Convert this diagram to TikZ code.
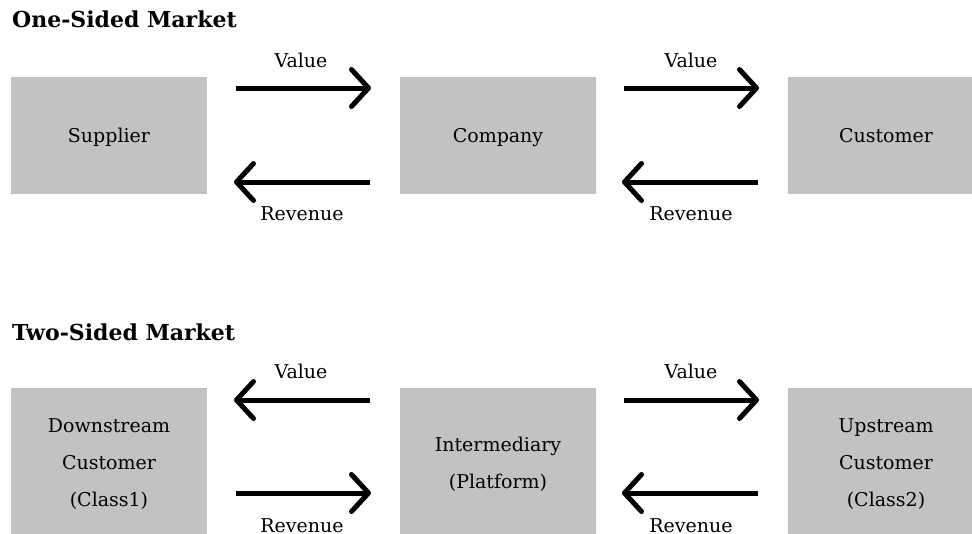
\documentclass[tikz,border=0pt]{standalone}
\usepackage{fontspec}
\setmainfont{DejaVu Serif}
\usetikzlibrary{arrows.meta}
\begin{document}
\begin{tikzpicture}[x=1pt,y=-1pt,
  box/.style={fill=boxgray,draw=none,minimum width=196pt,inner sep=0pt,align=center,
    text depth=0pt,font=\fontsize{19}{37}\selectfont},
  lbl/.style={font=\fontsize{19}{22}\selectfont,inner sep=0pt},
  ttl/.style={font=\bfseries\fontsize{22}{26}\selectfont,anchor=base west,inner sep=0pt},
  arr/.style={line width=5pt,-{Straight Barb[length=17pt,width=37pt,line width=5pt,round]}}]
\definecolor{boxgray}{RGB}{194,194,194}
\useasboundingbox (0,0) rectangle (972,533);
\clip (0,0) rectangle (972,533);
% One-sided
\node[ttl] (t1) at (12,27) {One-Sided Market};
\node[box,minimum height=117pt] (sup) at (109,135) {Supplier};
\node[box,minimum height=117pt] (com) at (498,135) {Company};
\node[box,minimum height=117pt] (cus) at (886,135) {Customer};
\coordinate (a1s) at (236,88); \coordinate (a1e) at (371,88);
\coordinate (a2s) at (370,182); \coordinate (a2e) at (234,182);
\coordinate (a3s) at (624,88); \coordinate (a3e) at (759,88);
\coordinate (a4s) at (758,182); \coordinate (a4e) at (622,182);
\draw[arr] (a1s) -- (a1e);
\draw[arr] (a2s) -- (a2e);
\draw[arr] (a3s) -- (a3e);
\draw[arr] (a4s) -- (a4e);
\node[lbl] (v1) at (301,60) {Value};
\node[lbl] (r1) at (302,214) {Revenue};
\node[lbl] (v2) at (691,60) {Value};
\node[lbl] (r2) at (691,214) {Revenue};
% Two-sided
\node[ttl] (t2) at (12,340) {Two-Sided Market};
\node[box,minimum height=150pt] (dwn) at (109,462.5) {Downstream\\Customer\\(Class1)};
\node[box,minimum height=150pt] (int) at (498,462.5) {Intermediary\\(Platform)};
\node[box,minimum height=150pt] (ups) at (886,462.5) {Upstream\\Customer\\(Class2)};
\coordinate (b1s) at (370,400); \coordinate (b1e) at (234,400);
\coordinate (b2s) at (236,493); \coordinate (b2e) at (371,493);
\coordinate (b3s) at (624,400); \coordinate (b3e) at (759,400);
\coordinate (b4s) at (758,493); \coordinate (b4e) at (622,493);
\draw[arr] (b1s) -- (b1e);
\draw[arr] (b2s) -- (b2e);
\draw[arr] (b3s) -- (b3e);
\draw[arr] (b4s) -- (b4e);
\node[lbl] (v3) at (301,371) {Value};
\node[lbl] (r3) at (302,526) {Revenue};
\node[lbl] (v4) at (691,371) {Value};
\node[lbl] (r4) at (691,526) {Revenue};
\end{tikzpicture}
\end{document}
